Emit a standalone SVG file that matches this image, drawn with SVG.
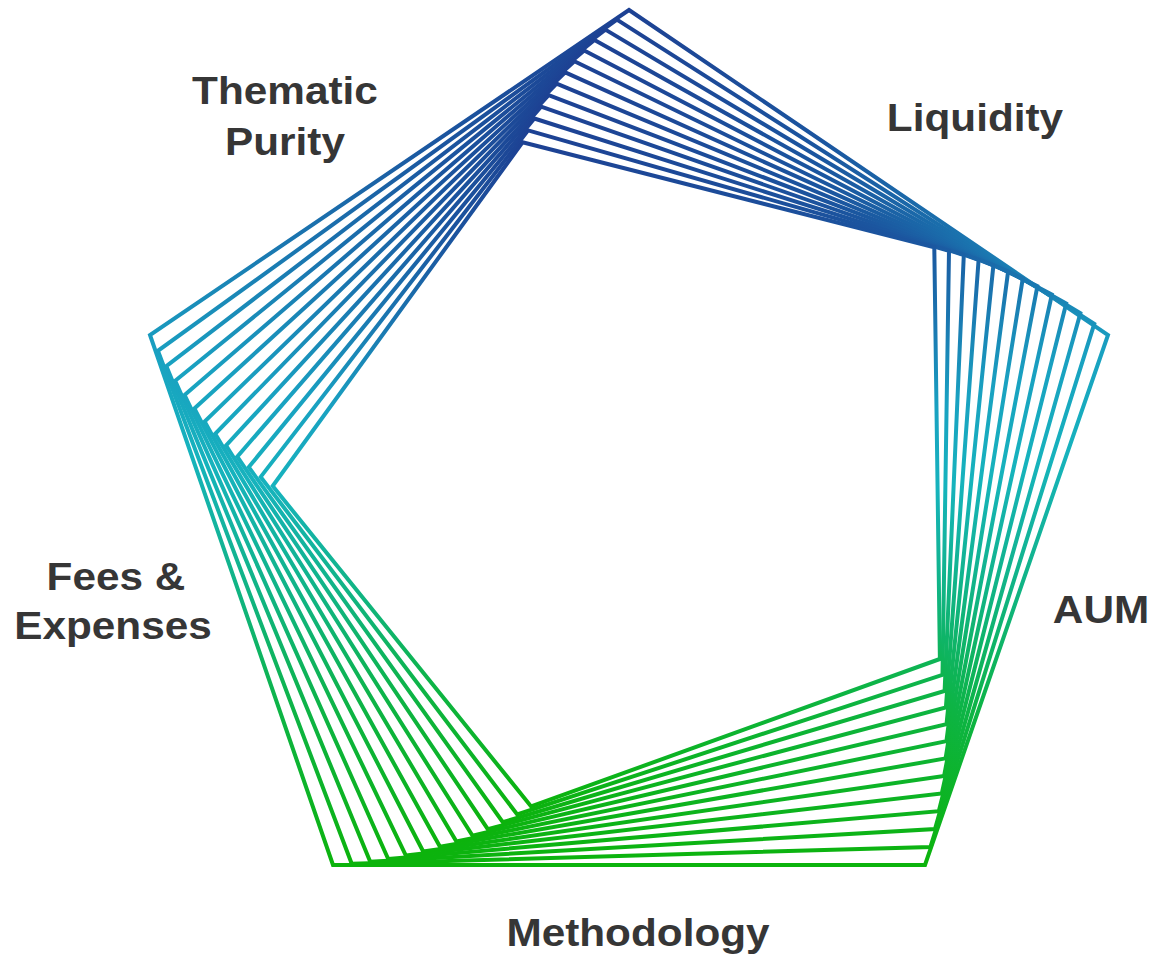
<svg xmlns="http://www.w3.org/2000/svg" width="1153" height="956" viewBox="0 0 1153 956">
<defs>
<linearGradient id="g" x1="0" y1="0" x2="0" y2="1">
<stop offset="0" stop-color="#1d4193"/>
<stop offset="0.15" stop-color="#1b559f"/>
<stop offset="0.28" stop-color="#1a78b1"/>
<stop offset="0.4" stop-color="#19a1c1"/>
<stop offset="0.52" stop-color="#16b3bd"/>
<stop offset="0.68" stop-color="#10b482"/>
<stop offset="0.82" stop-color="#0db445"/>
<stop offset="1" stop-color="#0cb30c"/>
</linearGradient>
<style>
.p{fill:none;stroke:url(#g);stroke-width:4;stroke-linejoin:miter;stroke-miterlimit:10}
.t{font-family:"Liberation Sans",Arial,sans-serif;font-weight:bold;font-size:39px;fill:#363636;text-anchor:middle}
</style>
</defs>
<rect width="1153" height="956" fill="#ffffff"/>
<g id="connectors">
<polygon class="p" points="629,10 1108,335 925,865 333,865 150,335"/>
<polygon class="p" points="616.9,19.6 1094.3,323.8 930.4,847 351.7,863.7 157.9,350.8"/>
<polygon class="p" points="605.4,29.6 1080.4,313.3 935,829.1 370.2,861.7 166.3,366.1"/>
<polygon class="p" points="594.5,39.9 1066.2,303.5 938.8,811.2 388.2,859 175.2,380.8"/>
<polygon class="p" points="584.2,50.5 1051.9,294.5 941.8,793.5 405.9,855.6 184.6,395"/>
<polygon class="p" points="574.4,61.3 1037.4,286.1 944.1,775.9 423.2,851.5 194.4,408.5"/>
<polygon class="p" points="565.2,72.4 1022.8,278.4 945.6,758.4 440,846.8 204.6,421.5"/>
<polygon class="p" points="556.6,83.6 1008.1,271.5 946.4,741.2 456.4,841.5 215.2,433.8"/>
<polygon class="p" points="548.6,95.1 993.4,265.3 946.5,724.2 472.4,835.6 226.1,445.5"/>
<polygon class="p" points="541.1,106.7 978.6,259.8 945.9,707.5 487.8,829.1 237.3,456.6"/>
<polygon class="p" points="534.3,118.5 963.8,255 944.6,691 502.8,822.1 248.8,467.1"/>
<polygon class="p" points="528.1,130.3 949,250.8 942.5,674.8 517.2,814.5 260.7,476.9"/>
<polygon class="p" points="522.5,142.3 934.3,247.4 939.9,659 531.1,806.4 272.7,486"/>
</g>
<g id="label-thematic-purity">
<text class="t" transform="translate(285,104) scale(1.085,1)">Thematic</text>
<text class="t" transform="translate(285,155) scale(1.085,1)">Purity</text>
</g>
<g id="label-liquidity">
<text class="t" transform="translate(975,131) scale(1.085,1)">Liquidity</text>
</g>
<g id="label-aum">
<text class="t" transform="translate(1101,623) scale(1.085,1)">AUM</text>
</g>
<g id="label-fees-expenses">
<text class="t" transform="translate(116,590) scale(1.085,1)">Fees &amp;</text>
<text class="t" transform="translate(113,639) scale(1.085,1)">Expenses</text>
</g>
<g id="label-methodology">
<text class="t" transform="translate(638,946) scale(1.085,1)">Methodology</text>
</g>
</svg>
